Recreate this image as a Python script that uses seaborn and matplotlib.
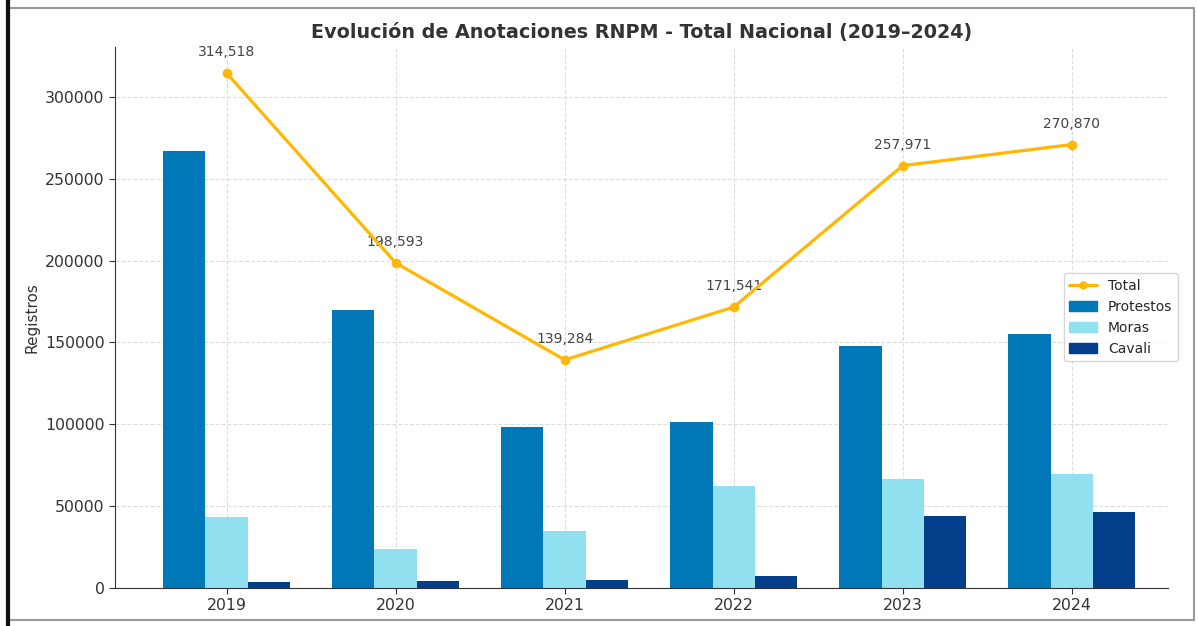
import pandas as pd
import numpy as np
import seaborn as sns
import matplotlib.pyplot as plt
from matplotlib.patches import Rectangle, Patch
from matplotlib.lines import Line2D

years = ["2019", "2020", "2021", "2022", "2023", "2024"]
protestos = [267000, 170000, 98500, 101500, 147500, 155000]
moras = [43500, 24000, 35000, 62000, 66500, 69500]
cavali = [3500, 4000, 5000, 7500, 44000, 46500]
totals = [314518, 198593, 139284, 171541, 257971, 270870]

colors = {"Protestos": "#0077b6", "Moras": "#90e0ef", "Cavali": "#023e8a"}
total_color = "#ffb703"

df = pd.DataFrame({"year": years, "Protestos": protestos, "Moras": moras, "Cavali": cavali})
long_df = df.melt(id_vars="year", var_name="serie", value_name="value")

sns.set_style("whitegrid", {"grid.linestyle": "--", "grid.color": "#dddddd",
                            "axes.edgecolor": "#333333", "xtick.bottom": True, "ytick.left": True})

fig = plt.figure(figsize=(11.98, 6.26), dpi=100)
ax = fig.add_axes([0.096, 0.061, 0.879, 0.864])

sns.barplot(data=long_df, x="year", y="value", hue="serie", palette=colors,
            width=0.75, saturation=1, ax=ax, legend=False, linewidth=0)
ax.set_axisbelow(True)
ax.grid(True, linestyle="--", color="#dddddd", linewidth=0.8)

ax.plot(np.arange(len(years)), totals, color=total_color, linewidth=2.3,
        marker="o", markersize=6, zorder=4)
for i, t in enumerate(totals):
    ax.annotate(f"{t:,}", (i, t), xytext=(0, 10), textcoords="offset points",
                ha="center", va="bottom", fontsize=10, color="#444444")

ax.set_xlim(-0.66, 5.57)
ax.set_ylim(0, 330500)
ax.set_yticks(range(0, 300001, 50000))
ax.set_xlabel("")
ax.set_ylabel("Registros", fontsize=11, color="#333333")
ax.tick_params(axis="both", labelsize=11.3, colors="#333333", length=4)
sns.despine(ax=ax)

ax.set_title("Evolución de Anotaciones RNPM - Total Nacional (2019–2024)",
             fontsize=13.8, fontweight="bold", color="#333333", pad=6.5)

handles = [Line2D([0], [0], color=total_color, linewidth=2.3, marker="o", markersize=5),
           Patch(color=colors["Protestos"]), Patch(color=colors["Moras"]), Patch(color=colors["Cavali"])]
ax.legend(handles, ["Total", "Protestos", "Moras", "Cavali"], loc="center right",
          bbox_to_anchor=(1.016, 0.5), fontsize=10, frameon=True)

fig.patches.append(Rectangle((0.007, 0.01), 0.990, 0.978, transform=fig.transFigure,
                             fill=False, edgecolor="#999999", linewidth=1.5))
fig.patches.append(Rectangle((0.007, 0.0), 0.0, 1.0, transform=fig.transFigure,
                             fill=False, edgecolor="#111111", linewidth=3))

fig.savefig("out.png", dpi=100)
